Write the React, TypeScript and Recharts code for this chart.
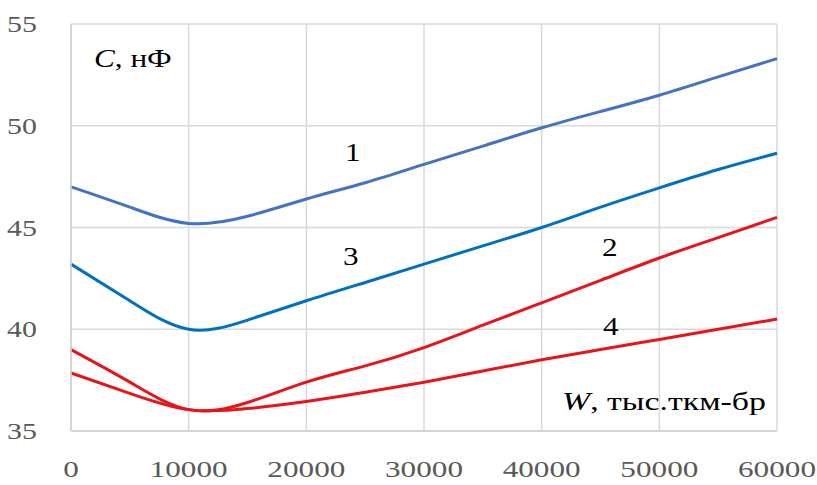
import React from 'react';
import { LineChart, Line, XAxis, YAxis, CartesianGrid } from 'recharts';

// W, thousand tkm-br
const wValues = [0, 5000, 10000, 15000, 20000, 25000, 30000, 35000, 40000, 45000, 50000, 55000, 60000];

// C, nF
const curve1 = [47.0, 46.0, 45.2, 45.55, 46.4, 47.2, 48.1, 49.0, 49.9, 50.7, 51.5, 52.4, 53.3];
const curve3 = [43.2, 41.4, 40.0, 40.45, 41.4, 42.3, 43.2, 44.1, 45.0, 46.0, 46.95, 47.85, 48.65];
const curve2 = [39.0, 37.4, 36.05, 36.4, 37.4, 38.2, 39.1, 40.2, 41.3, 42.4, 43.5, 44.5, 45.5];
const curve4 = [37.85, 36.85, 36.05, 36.1, 36.45, 36.9, 37.4, 37.95, 38.5, 39.0, 39.5, 40.0, 40.5];

const xTicks = [0, 10000, 20000, 30000, 40000, 50000, 60000];
const yTicks = [35, 40, 45, 50, 55];

const data = wValues.map((w, i) => ({
  w,
  c1: curve1[i],
  c2: curve2[i],
  c3: curve3[i],
  c4: curve4[i],
}));

const FONT = '"Liberation Serif", "Times New Roman", serif';

const XTick = (props: any) => {
  const { x, y, payload } = props;
  return (
    <text
      transform={`translate(${x},${y + 38}) scale(1.3,1)`}
      textAnchor="middle"
      fontFamily={FONT}
      fontSize={24}
      fill="#595959"
    >
      {payload.value}
    </text>
  );
};

const YTick = (props: any) => {
  const { x, y, payload } = props;
  return (
    <text
      transform={`translate(${x - 26},${y + 8}) scale(1.3,1)`}
      textAnchor="end"
      fontFamily={FONT}
      fontSize={23}
      fill="#595959"
    >
      {payload.value}
    </text>
  );
};

const labelStyle: React.CSSProperties = {
  position: 'absolute',
  fontFamily: FONT,
  fontSize: 26,
  color: '#000',
  lineHeight: 1,
  whiteSpace: 'nowrap',
  transformOrigin: 'left top',
};

const App: React.FC = () => {
  return (
    <div style={{ position: 'absolute', left: 0, top: 0, width: 817, height: 485, background: '#fff' }}>
      <LineChart
        width={817}
        height={485}
        data={data}
        margin={{ top: 24, right: 40, bottom: 0, left: 0 }}
      >
        <CartesianGrid stroke="#D9D9D9" strokeWidth={1.5} />
        <XAxis
          dataKey="w"
          type="number"
          domain={[0, 60000]}
          ticks={xTicks}
          height={54}
          tickLine={false}
          axisLine={{ stroke: '#D0D0D0', strokeWidth: 1.5 }}
          tick={<XTick />}
          interval={0}
        />
        <YAxis
          type="number"
          domain={[35, 55]}
          ticks={yTicks}
          width={71}
          tickLine={false}
          axisLine={{ stroke: '#D0D0D0', strokeWidth: 1.5 }}
          tick={<YTick />}
          interval={0}
        />
        <Line type="natural" dataKey="c1" stroke="#4472C4" strokeWidth={3} dot={false} isAnimationActive={false} />
        <Line type="natural" dataKey="c3" stroke="#0070C0" strokeWidth={3} dot={false} isAnimationActive={false} />
        <Line type="natural" dataKey="c2" stroke="#E8141A" strokeWidth={3} dot={false} isAnimationActive={false} />
        <Line type="natural" dataKey="c4" stroke="#E8141A" strokeWidth={3} dot={false} isAnimationActive={false} />
      </LineChart>

      <div style={{ ...labelStyle, left: 94, top: 46, transform: 'scale(1.2,1)' }}>
        <i>C</i>, нФ
      </div>
      <div style={{ ...labelStyle, left: 562, top: 389, transform: 'scale(1.3,1)' }}>
        <i>W</i>, тыс.ткм-бр
      </div>
      <div style={{ ...labelStyle, left: 345, top: 140, transform: 'scale(1.2,1)' }}>1</div>
      <div style={{ ...labelStyle, left: 343, top: 244, transform: 'scale(1.2,1)' }}>3</div>
      <div style={{ ...labelStyle, left: 602, top: 235, transform: 'scale(1.2,1)' }}>2</div>
      <div style={{ ...labelStyle, left: 603, top: 314, transform: 'scale(1.2,1)' }}>4</div>
    </div>
  );
};

export default App;
